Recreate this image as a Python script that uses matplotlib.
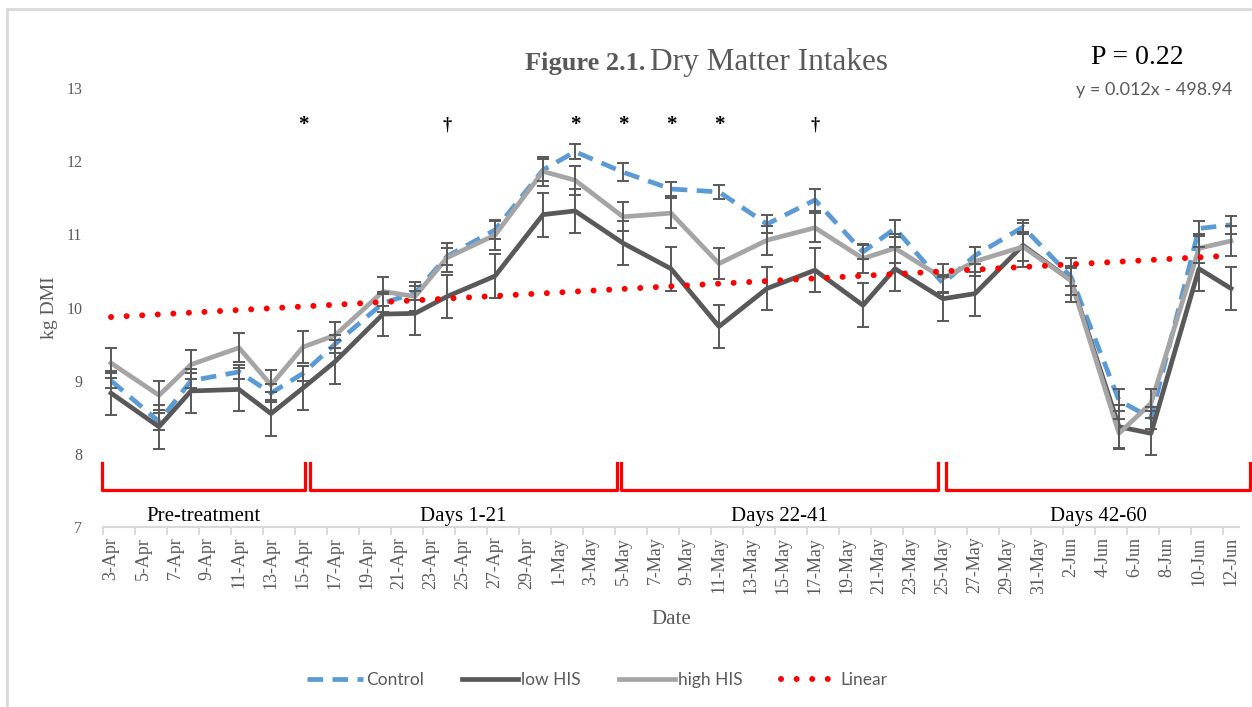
import matplotlib
matplotlib.use("Agg")
import matplotlib.pyplot as plt
import matplotlib.dates as mdates
from matplotlib.lines import Line2D
import numpy as np

# sampling dates and mean dry matter intake (kg) per group
dates = ["2017-04-03", "2017-04-06", "2017-04-08", "2017-04-11", "2017-04-13",
         "2017-04-15", "2017-04-17", "2017-04-20", "2017-04-22", "2017-04-24",
         "2017-04-27", "2017-04-30", "2017-05-02", "2017-05-05", "2017-05-08",
         "2017-05-11", "2017-05-14", "2017-05-17", "2017-05-20", "2017-05-22",
         "2017-05-25", "2017-05-27", "2017-05-30", "2017-06-02", "2017-06-05",
         "2017-06-07", "2017-06-10", "2017-06-12"]
control = [9.00, 8.44, 9.00, 9.12, 8.83, 9.10, 9.50, 10.06, 10.20, 10.70,
           11.06, 11.88, 12.13, 11.85, 11.62, 11.58, 11.14, 11.47, 10.76, 11.08,
           10.33, 10.71, 11.10, 10.42, 8.73, 8.49, 11.08, 11.13]
low_his = [8.83, 8.37, 8.86, 8.88, 8.55, 8.90, 9.26, 9.91, 9.92, 10.15,
           10.43, 11.27, 11.32, 10.88, 10.53, 9.74, 10.26, 10.51, 10.03, 10.53,
           10.12, 10.19, 10.85, 10.37, 8.37, 8.28, 10.53, 10.26]
high_his = [9.24, 8.80, 9.22, 9.45, 8.94, 9.46, 9.62, 10.22, 10.15, 10.68,
            10.99, 11.86, 11.74, 11.24, 11.29, 10.60, 10.92, 11.09, 10.67, 10.81,
            10.40, 10.63, 10.83, 10.37, 8.28, 8.69, 10.81, 10.91]
# standard errors
control_se = [0.10, 0.12, 0.10, 0.10, 0.12, 0.10, 0.12, 0.12, 0.10, 0.12,
              0.12, 0.15, 0.10, 0.12, 0.10, 0.10, 0.12, 0.15, 0.10, 0.12,
              0.12, 0.12, 0.10, 0.12, 0.15, 0.15, 0.10, 0.12]
low_se = [0.30, 0.30, 0.30, 0.30, 0.30, 0.30, 0.30, 0.30, 0.30, 0.30,
          0.30, 0.30, 0.30, 0.30, 0.30, 0.30, 0.30, 0.30, 0.30, 0.30,
          0.30, 0.30, 0.30, 0.30, 0.30, 0.30, 0.30, 0.30]
high_se = [0.20, 0.20, 0.20, 0.20, 0.20, 0.22, 0.18, 0.20, 0.20, 0.20,
           0.20, 0.20, 0.20, 0.20, 0.20, 0.21, 0.20, 0.20, 0.20, 0.20,
           0.20, 0.20, 0.20, 0.20, 0.20, 0.20, 0.20, 0.20]

# linear trend (kg per day) and its value on the first day
trend_slope = 0.012
trend_start = 9.87

# significance marks above the series
sig_dates = ["2017-04-15", "2017-04-24", "2017-05-02", "2017-05-05",
             "2017-05-08", "2017-05-11", "2017-05-17"]
sig_marks = ["*", "\u2020", "*", "*", "*", "*", "\u2020"]

# treatment periods, bracket ends in days after the first sample
phase_names = ["Pre-treatment", "Days 1-21", "Days 22-41", "Days 42-60"]
phase_start = [-0.55, 12.45, 31.9, 52.2]
phase_end = [12.1, 31.6, 51.7, 71.2]

serif = "Liberation Serif"
sans = "Lato"
grey_txt = "#595959"

x = mdates.date2num(np.array(dates, dtype="datetime64[D]"))
first, last = x[0], x[-1]

fig = plt.figure(figsize=(12.52, 7.07), dpi=100)
ax = fig.add_axes([0.0823, 0.2546, 0.9073, 0.6209])

ax.plot(x, control, color="#5B9BD5", lw=3.4, ls=(0, (3.3, 2.0)), label="Control", zorder=3)
ax.plot(x, low_his, color="#595959", lw=3.4, label="low HIS", zorder=3)
ax.plot(x, high_his, color="#A5A5A5", lw=3.4, label="high HIS", zorder=3)

for vals, se in [(control, control_se), (low_his, low_se), (high_his, high_se)]:
    ax.errorbar(x, vals, yerr=se, fmt="none", ecolor="#595959", elinewidth=1.4,
                capsize=4.3, capthick=1.4, zorder=4)

tx = np.array([first, last])
ax.plot(tx, trend_start + trend_slope * (tx - first), color="#FF0000", lw=4.3,
        ls=(0, (0.01, 2.6)), dash_capstyle="round", label="Linear", zorder=5)

for d, m in zip(sig_dates, sig_marks):
    ax.text(mdates.date2num(np.datetime64(d)), 12.5, m, ha="center", va="center",
            fontsize=15 if m == "*" else 13, fontweight="bold", family=serif, color="black")

# period brackets below the lines
for name, s, e in zip(phase_names, phase_start, phase_end):
    x0, x1 = first + s, first + e
    ax.plot([x0, x0, x1, x1], [7.87, 7.5, 7.5, 7.87], color="#FF0000", lw=2.3,
            solid_joinstyle="round", clip_on=False, zorder=2)
    ax.text((x0 + x1) / 2, 7.15, name, ha="center", va="center", fontsize=15,
            family=serif, color="black")

ax.set_xlim(first - 0.5, last + 0.5)
ax.set_ylim(7, 13)
ax.set_yticks(np.arange(7, 14, 1))
ax.tick_params(axis="y", length=0, labelsize=11.5, labelcolor=grey_txt, pad=15)

ax.set_xticks(np.arange(first, last + 1, 2))
ax.set_xticks(np.arange(first - 0.5, last, 2), minor=True)
ax.xaxis.set_major_formatter(plt.FuncFormatter(
    lambda v, p: "%d-%s" % (mdates.num2date(v).day, mdates.num2date(v).strftime("%b"))))
ax.tick_params(axis="x", which="major", length=0, labelsize=13, labelcolor=grey_txt,
               rotation=90, pad=7)
ax.tick_params(axis="x", which="minor", length=6, width=1.3, color="#D9D9D9")
for lab in ax.get_xticklabels() + ax.get_yticklabels():
    lab.set_family(serif)

for side in ["left", "right", "top"]:
    ax.spines[side].set_visible(False)
ax.spines["bottom"].set_color("#D9D9D9")
ax.spines["bottom"].set_linewidth(1.5)

ax.set_xlabel("Date", family=serif, fontsize=15, color=grey_txt, labelpad=12)
ax.set_ylabel("kg DMI", family=serif, fontsize=14, color=grey_txt, labelpad=6)

fig.text(0.5152, 0.901, "Figure 2.1.", ha="right", va="baseline", family=serif,
         fontsize=19, fontweight="bold", color=grey_txt)
fig.text(0.5192, 0.901, "Dry Matter Intakes", ha="left", va="baseline", family=serif,
         fontsize=22.5, color=grey_txt)
fig.text(0.908, 0.909, "P = 0.22", ha="center", va="baseline", family=serif,
         fontsize=20, color="black")
fig.text(0.984, 0.873, "y = 0.012x - 498.94", ha="right", va="center", family=sans,
         fontsize=13, color=grey_txt)

# chart border (left and top edges)
fig.add_artist(Line2D([6.5 / 1252, 6.5 / 1252], [0, 1 - 9 / 707], color="#D9D9D9", lw=2))
fig.add_artist(Line2D([6.5 / 1252, 1], [1 - 9 / 707, 1 - 9 / 707], color="#D9D9D9", lw=2))

handles, labels = ax.get_legend_handles_labels()
leg = fig.legend(handles, labels, loc="center", bbox_to_anchor=(0.477, 0.038), ncol=4,
                 frameon=False, handlelength=3.2, columnspacing=2.2, handletextpad=0.2,
                 prop={"family": sans, "size": 12.5})
for t in leg.get_texts():
    t.set_color(grey_txt)

fig.savefig("out.png", dpi=100)
